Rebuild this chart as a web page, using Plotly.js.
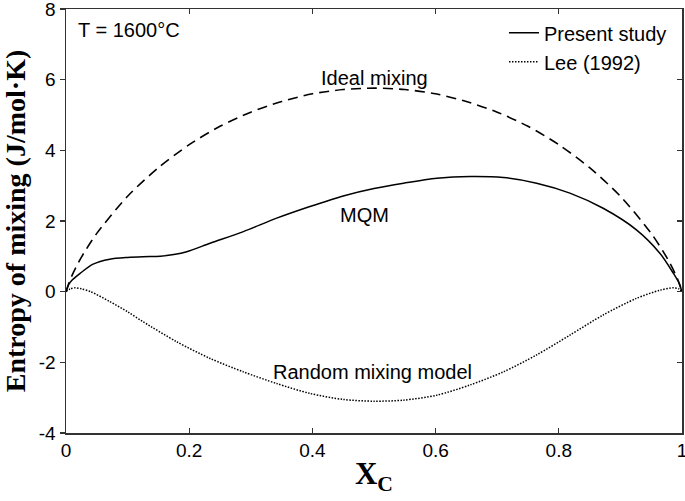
<!DOCTYPE html>
<html>
<head>
<meta charset="utf-8">
<script src="https://cdn.plot.ly/plotly-3.0.1.min.js"></script>
<style>html,body{margin:0;padding:0;background:#fff;}#chart{width:685px;height:501px;}</style>
</head>
<body>
<div id="chart"></div>
<script>
// Ideal mixing (dashed)
const xIdeal = [0, 0.005, 0.01, 0.02, 0.03, 0.05, 0.1, 0.15, 0.2, 0.25, 0.3, 0.35, 0.4, 0.45, 0.5, 0.55, 0.6, 0.65, 0.7, 0.75, 0.8, 0.85, 0.9, 0.95, 0.97, 0.98, 0.99, 0.995, 1];
const yIdeal = [0, 0.26, 0.47, 0.82, 1.12, 1.65, 2.70, 3.51, 4.16, 4.68, 5.08, 5.38, 5.60, 5.72, 5.76, 5.72, 5.60, 5.38, 5.08, 4.68, 4.16, 3.51, 2.70, 1.65, 1.12, 0.82, 0.47, 0.26, 0];
// Present study - MQM (solid)
const xMQM = [0, 0.005, 0.01, 0.023, 0.044, 0.071, 0.1, 0.125, 0.153, 0.175, 0.196, 0.234, 0.288, 0.342, 0.396, 0.45, 0.5, 0.548, 0.602, 0.656, 0.71, 0.764, 0.818, 0.872, 0.926, 0.964, 0.986, 0.995, 1];
const yMQM = [0, 0.22, 0.33, 0.52, 0.78, 0.92, 0.97, 0.99, 1.0, 1.05, 1.13, 1.37, 1.70, 2.08, 2.41, 2.71, 2.92, 3.07, 3.21, 3.26, 3.23, 3.07, 2.79, 2.36, 1.75, 1.09, 0.52, 0.25, 0];
// Lee (1992) - random mixing model (dotted)
const xLee = [0, 0.007, 0.015, 0.025, 0.04, 0.071, 0.1, 0.125, 0.18, 0.234, 0.288, 0.342, 0.396, 0.45, 0.5, 0.548, 0.602, 0.656, 0.71, 0.764, 0.818, 0.872, 0.926, 0.964, 0.986, 0.995, 1];
const yLee = [0, 0.08, 0.11, 0.08, 0.0, -0.28, -0.57, -0.85, -1.42, -1.89, -2.27, -2.60, -2.88, -3.05, -3.10, -3.07, -2.93, -2.64, -2.27, -1.79, -1.23, -0.66, -0.19, 0.04, 0.11, 0.08, 0];

const xTicks = [0, 0.2, 0.4, 0.6, 0.8, 1];
const xTickText = ['0', '0.2', '0.4', '0.6', '0.8', '1'];
const yTicks = [-4, -2, 0, 2, 4, 6, 8];
const yTickText = ['-4', '-2', '0', '2', '4', '6', '8'];

const sans = 'Liberation Sans, Arial, sans-serif';
const serif = 'Liberation Serif, Times New Roman, serif';

const traces = [
  {x: xMQM, y: yMQM, mode: 'lines', name: 'Present study',
   line: {color: '#000', width: 1.5, shape: 'spline', smoothing: 0.8}},
  {x: xLee, y: yLee, mode: 'lines', name: 'Lee (1992)',
   line: {color: '#000', width: 1.5, dash: '1.5px,1.5px', shape: 'spline', smoothing: 0.8}},
  {x: xIdeal, y: yIdeal, mode: 'lines', name: 'Ideal mixing', showlegend: false, yaxis: 'y2',
   line: {color: '#000', width: 1.6, dash: '10px,6px', shape: 'spline', smoothing: 0.8}}
];

const layout = {
  width: 685, height: 501,
  margin: {l: 66, r: 3, t: 9, b: 68},
  paper_bgcolor: '#fff', plot_bgcolor: '#fff',
  font: {family: sans, size: 19, color: '#000'},
  showlegend: true,
  legend: {x: 0.711, y: 0.99, xanchor: 'left', yanchor: 'top', bgcolor: 'rgba(0,0,0,0)',
           font: {family: sans, size: 20, color: '#000'}, tracegroupgap: 0},
  xaxis: {range: [0, 1], tickvals: xTicks, ticktext: xTickText, ticks: 'inside', ticklen: 5,
          tickcolor: '#333', tickwidth: 1.2, showline: true, linecolor: '#333', linewidth: 1.5,
          mirror: 'ticks', showgrid: false, zeroline: false, ticklabeloverflow: 'allow',
          tickfont: {family: sans, size: 19, color: '#000'},
          title: {text: 'X<sub>C</sub>', font: {family: serif, size: 31, weight: 'bold', color: '#000'}, standoff: 2}},
  yaxis: {range: [-4, 8], tickvals: yTicks, ticktext: yTickText, ticks: 'outside', ticklen: 5,
          tickcolor: '#333', tickwidth: 1.2, showline: true, linecolor: '#333', linewidth: 1.5,
          mirror: true, showgrid: false, zeroline: false, ticklabeloverflow: 'allow',
          tickfont: {family: sans, size: 19, color: '#000'},
          title: {text: 'Entropy of mixing (J/mol·K)', font: {family: serif, size: 28, weight: 'bold', color: '#000'}, standoff: 10}},
  yaxis2: {range: [-4, 8], overlaying: 'y', side: 'right', anchor: 'x', tickvals: yTicks,
           ticks: 'inside', ticklen: 5, tickcolor: '#333', tickwidth: 1.2,
           showticklabels: false, showline: false, showgrid: false, zeroline: false},
  annotations: [
    {x: 0.017, y: 7.41, xref: 'x', yref: 'y', text: 'T = 1600°C', showarrow: false, xanchor: 'left', yanchor: 'middle', font: {family: sans, size: 20, color: '#000'}},
    {x: 0.50, y: 6.05, xref: 'x', yref: 'y', text: 'Ideal mixing', showarrow: false, xanchor: 'center', yanchor: 'middle', font: {family: sans, size: 20, color: '#000'}},
    {x: 0.484, y: 2.16, xref: 'x', yref: 'y', text: 'MQM', showarrow: false, xanchor: 'center', yanchor: 'middle', font: {family: sans, size: 20, color: '#000'}},
    {x: 0.498, y: -2.27, xref: 'x', yref: 'y', text: 'Random mixing model', showarrow: false, xanchor: 'center', yanchor: 'middle', font: {family: sans, size: 20, color: '#000'}}
  ]
};

Plotly.newPlot('chart', traces, layout, {staticPlot: true, displayModeBar: false});
</script>
</body>
</html>
